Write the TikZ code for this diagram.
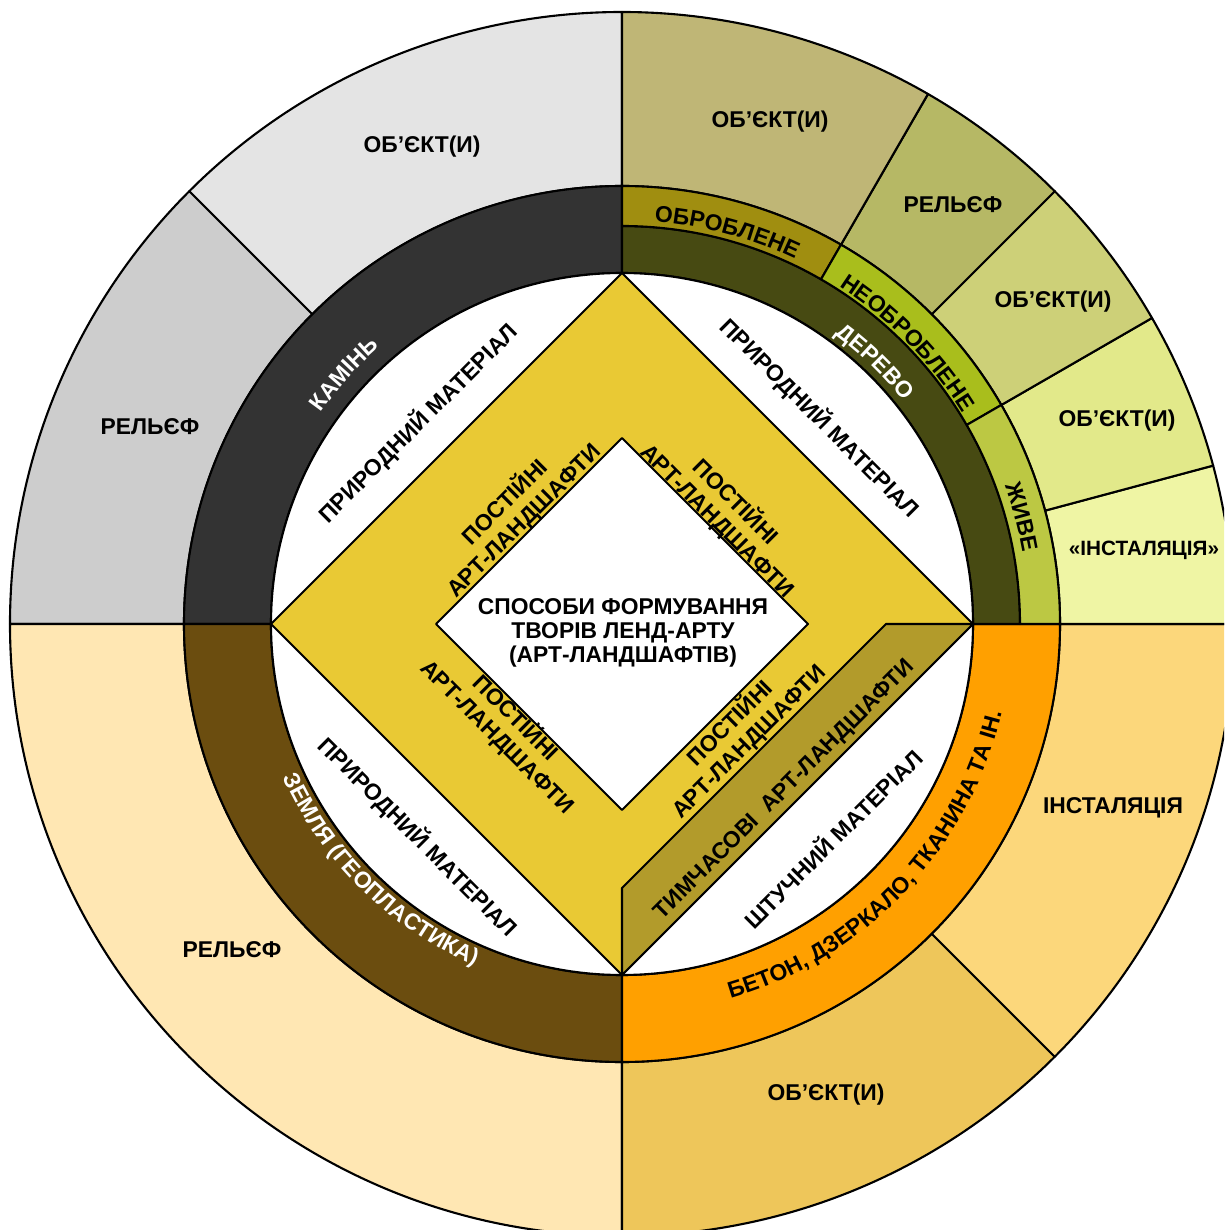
\documentclass[tikz,border=0pt]{standalone}
\usepackage{fontspec}
\setmainfont{Liberation Sans}
\usepackage{tikz}
\usetikzlibrary{decorations.text}

\definecolor{stonelight}{HTML}{E4E4E4}
\definecolor{stonemid}{HTML}{CDCDCD}
\definecolor{stonering}{HTML}{333333}
\definecolor{earthlight}{HTML}{FFE7B3}
\definecolor{earthring}{HTML}{6B4D0F}
\definecolor{artring}{HTML}{FFA000}
\definecolor{artinst}{HTML}{FCD77B}
\definecolor{artobj}{HTML}{EEC65A}
\definecolor{woodobj}{HTML}{BFB676}
\definecolor{woodrel}{HTML}{B6B865}
\definecolor{woodobjb}{HTML}{CDD078}
\definecolor{woodobjc}{HTML}{E2E98A}
\definecolor{woodinst}{HTML}{EFF5A4}
\definecolor{woodproc}{HTML}{A08E10}
\definecolor{woodraw}{HTML}{A9BE1C}
\definecolor{woodlive}{HTML}{BCC843}
\definecolor{woodring}{HTML}{474A12}
\definecolor{permyellow}{HTML}{E9C934}
\definecolor{tempolive}{HTML}{B29B2B}

\newcommand\labelfont{\bfseries\fontsize{6.5}{6.9}\selectfont}
\newcommand\pairfont{\bfseries\fontsize{6.5}{7.5}\selectfont}

% ring segment: start angle, end angle, inner radius, outer radius, fill
\newcommand\ringseg[5]{%
  \filldraw[fill=#5] (#1:#3) arc[start angle=#1, end angle=#2, radius=#3]
    -- (#2:#4) arc[start angle=#2, end angle=#1, radius=#4] -- cycle;}

% text on an arc: start angle, end angle, radius, colour, text
\newcommand\ringtext[5]{%
  \path[decorate, decoration={text along path, text align=center,
      text color=#4, text={|\labelfont|#5}}]
    (#1:#3) arc[start angle=#1, end angle=#2, radius=#3];}

\begin{document}
\begin{tikzpicture}[line width=0.6pt, line join=round]
		\useasboundingbox (-6.22,-6.06) rectangle (6.02,6.24);
		\clip (-6.22,-6.06) rectangle (6.02,6.24);

		% outer ring
		\ringseg{90}{135}{4.38}{6.12}{stonelight}
		\ringseg{135}{180}{4.38}{6.12}{stonemid}
		\ringseg{180}{270}{4.38}{6.12}{earthlight}
		\ringseg{270}{315}{4.38}{6.12}{artobj}
		\ringseg{315}{360}{4.38}{6.12}{artinst}
		\ringseg{0}{15}{4.38}{6.12}{woodinst}
		\ringseg{15}{30}{4.38}{6.12}{woodobjc}
		\ringseg{30}{45}{4.38}{6.12}{woodobjb}
		\ringseg{45}{60}{4.38}{6.12}{woodrel}
		\ringseg{60}{90}{4.38}{6.12}{woodobj}

		% material ring
		\ringseg{90}{180}{3.51}{4.38}{stonering}
		\ringseg{180}{270}{3.51}{4.38}{earthring}
		\ringseg{270}{360}{3.51}{4.38}{artring}
		\ringseg{0}{90}{3.51}{3.98}{woodring}
		\ringseg{60}{90}{3.98}{4.38}{woodproc}
		\ringseg{30}{60}{3.98}{4.38}{woodraw}
		\ringseg{0}{30}{3.98}{4.38}{woodlive}

		% centre
		\filldraw[fill=white] (0,0) circle (3.51);
		\filldraw[fill=permyellow] (0,3.51) -- (3.51,0) -- (0,-3.51) -- (-3.51,0) -- cycle;
		\filldraw[fill=tempolive] (2.64,0) -- (3.51,0) -- (0,-3.51) -- (0,-2.64) -- cycle;
		\filldraw[fill=white] (0,1.86) -- (1.86,0) -- (0,-1.86) -- (-1.86,0) -- cycle;

		\begin{scope}[every node/.style={font=\labelfont, align=center, inner sep=0pt}]
			\node (centre) at (0.01,-0.09) {СПОСОБИ ФОРМУВАННЯ\\ТВОРІВ ЛЕНД-АРТУ\\(АРТ-ЛАНДШАФТІВ)};

			\node[rotate=45, font=\pairfont]  (permTL) at (-1.08,1.13) {ПОСТІЙНІ\\АРТ-ЛАНДШАФТИ};
			\node[rotate=-45, font=\pairfont] (permTR) at (1.05,1.13) {ПОСТІЙНІ\\АРТ-ЛАНДШАФТИ};
			\node[rotate=-45, font=\pairfont] (permBL) at (-1.15,-1.03) {ПОСТІЙНІ\\АРТ-ЛАНДШАФТИ};
			\node[rotate=45, font=\pairfont]  (permBR) at (1.17,-1.08) {ПОСТІЙНІ\\АРТ-ЛАНДШАФТИ};
			\node[rotate=45]  (temp) at (1.63,-1.66) {ТИМЧАСОВІ \ АРТ-ЛАНДШАФТИ};

			\node[rotate=45]  (natTL) at (-2.04,2.01) {ПРИРОДНИЙ МАТЕРІАЛ};
			\node[rotate=-45] (natTR) at (1.98,2.06) {ПРИРОДНИЙ МАТЕРІАЛ};
			\node[rotate=-45] (natBL) at (-2.04,-2.13) {ПРИРОДНИЙ МАТЕРІАЛ};
			\node[rotate=45]  (artBR) at (2.10,-2.14) {ШТУЧНИЙ МАТЕРІАЛ};

			\node (stoneobj) at (-2.00,4.77) {ОБ’ЄКТ(И)};
			\node (stonerel) at (-4.72,1.97) {РЕЛЬЄФ};
			\node (earthrel) at (-3.90,-3.26) {РЕЛЬЄФ};
			\node (artobjn) at (2.04,-4.71) {ОБ’ЄКТ(И)};
			\node (artinstn) at (4.91,-1.84) {ІНСТАЛЯЦІЯ};
			\node (woodobjn) at (1.48,5.02) {ОБ’ЄКТ(И)};
			\node (woodreln) at (3.31,4.19) {РЕЛЬЄФ};
			\node (woodobjbn) at (4.31,3.22) {ОБ’ЄКТ(И)};
			\node (woodobjcn) at (4.95,2.03) {ОБ’ЄКТ(И)};
			\node[font=\bfseries\fontsize{5.9}{6.5}\selectfont] (woodinstn) at (5.22,0.74) {«ІНСТАЛЯЦІЯ»};
		\end{scope}

		% ring labels
		\ringtext{160}{116}{3.68}{white}{КАМІНЬ}
		\ringtext{195}{256}{3.72}{white}{ЗЕМЛЯ (ГЕОПЛАСТИКА)}
		\ringtext{276}{357}{3.90}{black}{БЕТОН, ДЗЕРКАЛО, ТКАНИНА ТА ІН.}
		\ringtext{66}{26}{3.59}{white}{ДЕРЕВО}
		\ringtext{99}{51}{4.04}{black}{ОБРОБЛЕНЕ}
		\ringtext{70}{19}{4.01}{black}{НЕОБРОБЛЕНЕ}
		\ringtext{28}{2}{4.07}{black}{ЖИВЕ}
\end{tikzpicture}
\end{document}
